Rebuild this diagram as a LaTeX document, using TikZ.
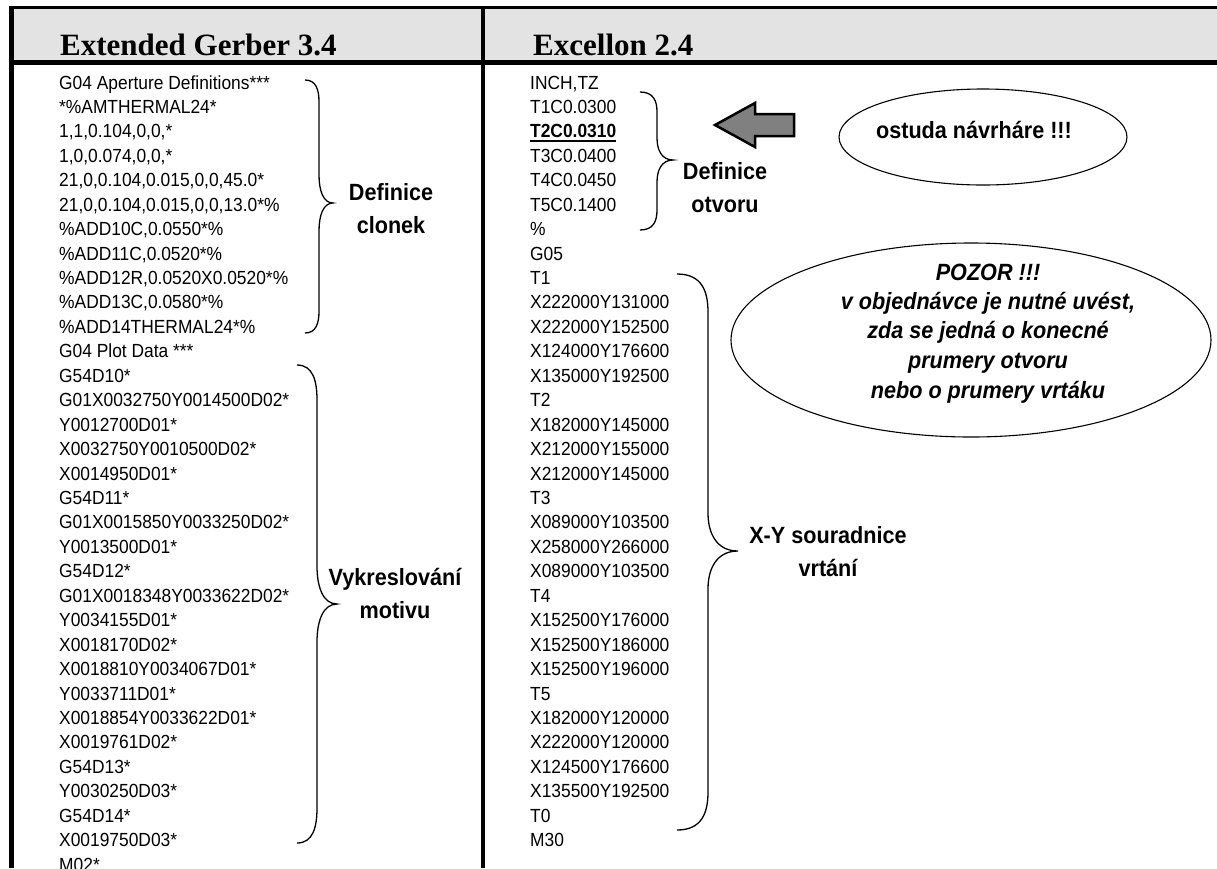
\documentclass[tikz,border=0pt]{standalone}
\usepackage{fontspec}
\setmainfont{Liberation Sans}
\newfontfamily\codefont{Liberation Sans}[FakeStretch=0.915]
\newfontfamily\labfont{Liberation Sans}[FakeStretch=0.92]
\newfontfamily\headfont{Liberation Serif}
\usetikzlibrary{shapes.geometric}
\definecolor{headgray}{HTML}{E3E3E3}
\definecolor{arrowgray}{HTML}{808080}
\tikzset{
  codeline/.style={anchor=base west, inner sep=0pt, font=\codefont\fontsize{19}{23}\selectfont},
  lab/.style={anchor=base, inner sep=0pt, font=\labfont\bfseries\fontsize{23.5}{28}\selectfont},
  warn/.style={anchor=base, inner sep=0pt, font=\labfont\bfseries\itshape\fontsize{23.5}{28}\selectfont},
  headtxt/.style={anchor=base west, inner sep=0pt, font=\headfont\bfseries\fontsize{31}{36}\selectfont},
  bracel/.style={line width=1.3pt},
  bubble/.style={ellipse, draw, line width=1.1pt, inner sep=0pt},
  blockarrow/.style={fill=arrowgray, draw=black, line width=2.5pt, line join=miter},
}
\newcommand{\mybrace}[8]{%
  \draw[bracel] (#1,#4) .. controls ({#1+0.8*(#2-#1)},#4) and (#2,{#4+0.45*#7}) .. (#2,{#4+#7})
    -- (#2,{#5-#8}) .. controls (#2,{#5-0.45*#8}) and ({#2+0.3*(#3-#2)},#5) .. (#3,#5)
    .. controls ({#2+0.3*(#3-#2)},#5) and (#2,{#5+0.45*#8}) .. (#2,{#5+#8})
    -- (#2,{#6-#7}) .. controls (#2,{#6-0.45*#7}) and ({#1+0.8*(#2-#1)},#6) .. (#1,#6);}
\begin{document}
\begin{tikzpicture}[x=1pt,y=-1pt]
\useasboundingbox (0,0) rectangle (1217,868);
\fill[white] (0,0) rectangle (1217,868);
% header
\fill[headgray] (13,9) rectangle (1217,61);
\draw[line width=3.3pt] (9.3,7.7) -- (1217,7.7);
\draw[line width=5pt] (9.3,62.5) -- (1217,62.5);
\draw[line width=4.7pt] (11.7,6) -- (11.7,868);
\draw[line width=4pt] (483,6) -- (483,868);
\node[headtxt] (h1) at (60,55) {Extended Gerber 3.4};
\node[headtxt] (h2) at (533,55) {Excellon 2.4};
% left column
\foreach \t [count=\i] in {
 {G04 Aperture Definitions***},
 {*\%AMTHERMAL24*},
 {1,1,0.104,0,0,*},
 {1,0,0.074,0,0,*},
 {21,0,0.104,0.015,0,0,45.0*},
 {21,0,0.104,0.015,0,0,13.0*\%},
 {\%ADD10C,0.0550*\%},
 {\%ADD11C,0.0520*\%},
 {\%ADD12R,0.0520X0.0520*\%},
 {\%ADD13C,0.0580*\%},
 {\%ADD14THERMAL24*\%},
 {G04 Plot Data ***},
 {G54D10*},
 {G01X0032750Y0014500D02*},
 {Y0012700D01*},
 {X0032750Y0010500D02*},
 {X0014950D01*},
 {G54D11*},
 {G01X0015850Y0033250D02*},
 {Y0013500D01*},
 {G54D12*},
 {G01X0018348Y0033622D02*},
 {Y0034155D01*},
 {X0018170D02*},
 {X0018810Y0034067D01*},
 {Y0033711D01*},
 {X0018854Y0033622D01*},
 {X0019761D02*},
 {G54D13*},
 {Y0030250D03*},
 {G54D14*},
 {X0019750D03*},
 {M02*}}
 { \node[codeline] (gl\i) at (59,{89+(\i-1)*24.44}) {\t}; }
% right column
\foreach \t [count=\i] in {
 {INCH,TZ},
 {T1C0.0300},
 {\bfseries T2C0.0310},
 {T3C0.0400},
 {T4C0.0450},
 {T5C0.1400},
 {\%},
 {G05},
 {T1},
 {X222000Y131000},
 {X222000Y152500},
 {X124000Y176600},
 {X135000Y192500},
 {T2},
 {X182000Y145000},
 {X212000Y155000},
 {X212000Y145000},
 {T3},
 {X089000Y103500},
 {X258000Y266000},
 {X089000Y103500},
 {T4},
 {X152500Y176000},
 {X152500Y186000},
 {X152500Y196000},
 {T5},
 {X182000Y120000},
 {X222000Y120000},
 {X124500Y176600},
 {X135500Y192500},
 {T0},
 {M30}}
 { \node[codeline] (gr\i) at (530,{89+(\i-1)*24.44}) {\t}; }
\draw[line width=2pt] ([yshift=-3.5pt]gr3.base west) -- ([yshift=-3.5pt]gr3.base east);
% braces
\mybrace{305}{319}{333}{80}{203}{333}{22}{28}
\mybrace{297}{317}{337}{365}{604}{843}{35}{38}
\mybrace{640}{657}{673}{92}{160}{230}{20}{22}
\mybrace{677}{708}{738}{274}{551}{830}{38}{38}
% brace labels
\node[lab] (dc1) at (391,200) {Definice};
\node[lab] (dc2) at (391,233) {clonek};
\node[lab] (vm1) at (395,585) {Vykreslování};
\node[lab] (vm2) at (395,618) {motivu};
\node[lab] (do1) at (725,179) {Definice};
\node[lab] (do2) at (725,212) {otvoru};
\node[lab] (xy1) at (828,543) {X-Y souradnice};
\node[lab] (xy2) at (828,576) {vrtání};
% arrow
\draw[blockarrow] (715,125) -- (755,103) -- (755,114) -- (794,114) -- (794,136) -- (755,136) -- (755,147) -- cycle;
% bubbles
\node[bubble, minimum width=288pt, minimum height=96pt] (ost) at (983,137) {};
\node[lab] (osttxt) at (974,138) {ostuda návrháre !!!};
\node[bubble, minimum width=480pt, minimum height=194pt] (poz) at (971,340) {};
\node[warn] (pz1) at (988,280) {POZOR !!!};
\node[warn] (pz2) at (988,309) {v objednávce je nutné uvést,};
\node[warn] (pz3) at (988,338) {zda se jedná o konecné};
\node[warn] (pz4) at (988,368) {prumery otvoru};
\node[warn] (pz5) at (988,398) {nebo o prumery vrtáku};
\end{tikzpicture}
\end{document}
